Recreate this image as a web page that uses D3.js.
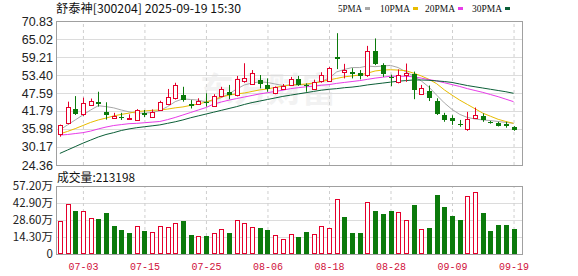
<!DOCTYPE html>
<html>
<head>
<meta charset="utf-8">
<script src="https://cdn.jsdelivr.net/npm/d3@7"></script>
<style>
  body { margin: 0; background: #fff; }
  svg { display: block; }
  text { font-family: "Noto Sans CJK SC", "Liberation Sans", sans-serif; }
</style>
</head>
<body>
<div id="chart"></div>
<script>
// trading days shown, 06-30 .. 09-19
const dates = ['06-30','07-01','07-02','07-03','07-04','07-07','07-08','07-09','07-10','07-11',
  '07-14','07-15','07-16','07-17','07-18','07-21','07-22','07-23','07-24','07-25',
  '07-28','07-29','07-30','07-31','08-01','08-04','08-05','08-06','08-07','08-08',
  '08-11','08-12','08-13','08-14','08-15','08-18','08-19','08-20','08-21','08-22',
  '08-25','08-26','08-27','08-28','08-29','09-01','09-02','09-03','09-04','09-05',
  '09-08','09-09','09-10','09-11','09-12','09-15','09-16','09-17','09-18','09-19']

const open = [34.5,37.8,42.3,40.8,43.7,44.8,41.6,39.6,40.0,39.3,
  38.9,41.2,40.0,42.1,44.0,45.9,46.9,43.9,44.2,44.6,
  43.4,46.7,48.0,46.9,51.4,50.5,51.8,50.2,47.5,49.0,
  50.2,52.1,50.2,49.0,51.6,51.5,59.3,54.4,54.5,54.1,
  53.3,61.1,56.7,52.9,51.2,53.4,53.6,47.2,48.2,45.1,
  40.5,39.4,37.6,36.1,39.4,40.2,38.3,38.0,37.5,36.6]
const high = [37.4,44.8,46.6,46.1,45.8,48.0,44.6,41.2,41.2,40.7,
  42.4,42.1,42.3,45.1,48.9,50.9,49.6,45.3,45.9,47.5,
  47.2,49.6,50.2,53.1,57.2,55.0,53.4,52.3,49.7,50.5,
  52.8,53.1,50.7,51.9,54.3,56.0,66.9,57.0,55.6,55.0,
  62.8,65.2,57.2,53.5,55.2,57.1,54.5,50.2,50.0,45.9,
  41.2,40.4,38.9,41.5,42.9,41.0,38.6,38.3,38.3,36.9]
const low = [33.5,37.5,40.5,40.2,43.4,43.2,39.0,39.3,38.9,39.0,
  38.8,39.8,39.7,41.8,43.7,45.5,44.8,42.6,43.9,43.2,
  43.2,46.2,45.6,46.5,50.9,50.2,49.1,48.0,47.2,48.6,
  49.9,49.9,48.0,48.6,50.9,51.2,55.3,52.3,52.3,52.0,
  52.8,56.6,52.8,49.8,50.7,51.2,45.6,47.0,45.0,40.5,
  38.3,37.3,36.7,35.4,39.2,38.3,37.7,36.8,36.4,35.4]
const close = [37.2,43.1,40.8,44.5,45.1,44.0,40.4,40.2,39.6,39.5,
  42.1,40.4,41.5,44.8,46.2,50.2,45.4,43.5,45.1,44.4,
  46.6,48.9,46.9,52.1,52.4,54.1,50.5,48.8,49.4,49.8,
  52.1,50.2,49.8,51.1,53.5,55.6,58.5,54.9,53.7,53.2,
  61.1,57.0,53.8,52.5,53.4,54.1,48.7,49.1,46.1,40.7,
  38.9,38.4,37.2,39.3,40.6,39.0,38.0,37.1,37.0,35.6]
// volume, in 万
const volume = [28,42,35.8,36.4,30.2,29.4,34.7,23.8,20.4,17.9,
  23.8,19.6,18.7,23.8,23,25.7,28,16.2,15.4,15.4,
  17.9,21,17.9,28.5,26.3,23,21.8,20.1,16.2,12.6,
  16.8,14,18.7,17,23.5,21.8,46.2,31.3,17.9,17.3,
  44,36.4,33.3,36.4,35.5,28.8,41.4,21,21.5,49.8,
  39.2,32.2,28.8,49,52.4,34.7,19.6,24.6,24.6,21.3198]

const ma5 = [35.7,37.3,38.9,40.5,42.1,43.5,43.2,42.8,42.1,41.5,
  41.1,41.1,41.3,41.9,43.2,44.8,45.7,45.5,45.3,44.7,
  45.2,46.1,47.3,48.9,50.2,50.8,51.2,51.0,50.5,50.0,
  50.2,50.2,50.3,50.7,51.3,52.4,54.4,55.2,55.8,55.8,
  56.3,56.1,56.3,56.5,55.8,54.4,53.1,51.5,49.5,46.9,
  44.4,42.3,40.7,39.7,39.2,38.9,38.7,38.4,38.1,37.8]
const ma10 = [34.4,35.2,36.1,37.1,38.1,38.9,39.5,40.2,40.7,41.1,
  41.6,41.8,42.0,42.1,42.4,42.8,43.1,43.6,44.0,44.7,
  45.5,46.3,46.9,47.3,47.6,48.1,48.6,48.9,49.4,49.8,
  50.2,50.3,50.5,50.8,51.3,51.8,52.3,52.8,53.1,53.4,
  54.0,54.7,55.0,55.1,55.0,54.8,54.0,53.1,52.0,50.6,
  48.6,46.9,45.3,43.9,42.5,41.1,40.1,39.1,38.4,37.8]
const ma20 = [34.0,34.2,34.5,34.8,35.3,36.0,36.6,37.1,37.4,37.7,
  37.8,38.0,38.2,38.4,39.0,39.7,40.5,41.3,42.1,42.9,
  44.0,44.7,45.3,45.8,46.3,46.8,47.3,47.7,48.1,48.5,
  49.0,49.3,49.6,49.8,50.1,50.3,50.7,51.0,51.3,51.6,
  52.0,52.4,52.7,53.0,53.0,53.0,52.8,52.4,51.9,51.5,
  50.9,50.3,49.7,49.0,48.4,47.8,47.1,46.4,45.6,44.8]
const ma30 = [28.1,29.2,30.3,31.4,32.4,33.4,34.2,34.8,35.5,36.0,
  36.4,36.7,37.0,37.3,37.8,38.3,38.9,39.6,40.2,40.8,
  41.4,42.0,42.6,43.2,43.9,44.5,45.0,45.5,46.0,46.5,
  46.9,47.3,47.7,48.1,48.5,48.8,49.0,49.3,49.5,49.8,
  50.2,50.5,50.8,51.1,51.4,51.6,51.8,51.8,51.7,51.5,
  51.3,51.0,50.5,50.0,49.6,49.2,48.8,48.4,48.0,47.5]

const tickDates = ['07-03','07-15','07-25','08-06','08-18','08-28','09-09','09-19']
const priceTicks = [24.36, 30.17, 35.98, 41.79, 47.59, 53.40, 59.21, 65.02, 70.83]
const volTicks = [0, 14.30, 28.60, 42.90, 57.20]
const maNames = ['5PMA', '10PMA', '20PMA', '30PMA']

const width = 578
const height = 276
const left = 56
const right = 522
const priceTop = 21
const priceBottom = 165
const volTop = 186
const volBottom = 254

const UP = '#e4002b'
const DOWN = '#0b7a0b'
const maColors = ['#a8a8a8', '#e8bc00', '#e83ce8', '#0b5e37']

const svg = d3.select('#chart')
  .append('svg')
  .attr('width', width)
  .attr('height', height)

const x = d3.scaleLinear().domain([-0.5, dates.length + 0.1]).range([left, right])
const y = d3.scaleLinear().domain([priceTicks[0], priceTicks[priceTicks.length - 1]]).range([priceBottom, priceTop])
const yv = d3.scaleLinear().domain([0, volTicks[volTicks.length - 1]]).range([volBottom, volTop])

const tickIdx = tickDates.map(d => dates.indexOf(d))

// faint watermark
svg.append('text')
  .attr('x', 268).attr('y', 102)
  .attr('text-anchor', 'middle')
  .style('font-size', '34px').style('font-weight', 'bold')
  .attr('fill', '#f2f2f2')
  .text('东方财富')

function grid(g, scale, ticks, top, bottom) {
  // horizontal solid lines
  g.append('g')
    .attr('transform', `translate(${left},0)`)
    .call(d3.axisLeft(scale).tickValues(ticks).tickSize(-(right - left)).tickFormat(''))
    .call(a => a.select('.domain').remove())
    .call(a => a.selectAll('line').attr('stroke', '#dcdcdc'))
  // vertical dashed lines
  g.append('g')
    .attr('transform', `translate(0,${bottom})`)
    .call(d3.axisBottom(x).tickValues(tickIdx).tickSize(-(bottom - top)).tickFormat(''))
    .call(a => a.select('.domain').remove())
    .call(a => a.selectAll('line').attr('stroke', '#cfcfcf').attr('stroke-dasharray', '3,3'))
  // frame
  g.append('rect')
    .attr('x', left + 0.5).attr('y', top + 0.5)
    .attr('width', right - left).attr('height', bottom - top)
    .attr('fill', 'none').attr('stroke', '#a0a0a0')
}

grid(svg.append('g'), y, priceTicks, priceTop, priceBottom)
grid(svg.append('g'), yv, volTicks, volTop, volBottom)

// price labels
svg.append('g')
  .attr('transform', `translate(${left},0)`)
  .call(d3.axisLeft(y).tickValues(priceTicks).tickSize(0).tickPadding(3).tickFormat(d3.format('.2f')))
  .call(a => a.select('.domain').remove())
  .call(a => a.selectAll('text').attr('fill', '#222').style('font-family', '"Liberation Sans", Arial, sans-serif').style('font-size', '12.5px'))

// volume labels
svg.append('g')
  .attr('transform', `translate(${left},0)`)
  .call(d3.axisLeft(yv).tickValues(volTicks).tickSize(0).tickPadding(3).tickFormat(d => d ? d3.format('.2f')(d) + '万' : '0'))
  .call(a => a.select('.domain').remove())
  .call(a => a.selectAll('text').attr('fill', '#222').style('font-size', '11.5px'))

// date labels
svg.append('g')
  .attr('transform', `translate(0,${volBottom})`)
  .call(d3.axisBottom(x).tickValues(tickIdx).tickSize(0).tickPadding(8).tickFormat(i => dates[i]))
  .call(a => a.select('.domain').remove())
  .call(a => a.selectAll('text').attr('fill', '#d0103a')
    .style('font-family', '"Liberation Mono", monospace').style('font-size', '11px')
    .attr('textLength', 30).attr('lengthAdjust', 'spacingAndGlyphs'))

// moving averages
const line = d3.line().x((d, i) => x(i)).y(d => y(d))
;[ma5, ma10, ma20, ma30].forEach((s, k) => {
  svg.append('path')
    .attr('d', line(s))
    .attr('fill', 'none')
    .attr('stroke', maColors[k])
    .attr('stroke-width', 1)
})

// candles
const candles = svg.append('g')
dates.forEach((d, i) => {
  const px = Math.round(x(i))
  const up = close[i] >= open[i]
  const c = up ? UP : DOWN
  const top = y(Math.max(open[i], close[i]))
  const bot = y(Math.min(open[i], close[i]))
  candles.append('line')
    .attr('x1', px + 0.5).attr('x2', px + 0.5)
    .attr('y1', y(high[i])).attr('y2', y(low[i]))
    .attr('stroke', c)
  if (up) {
    candles.append('rect')
      .attr('x', px - 1.5).attr('y', Math.round(top) + 0.5)
      .attr('width', 4).attr('height', Math.max(1, Math.round(bot) - Math.round(top)))
      .attr('fill', '#fff').attr('stroke', c)
  } else {
    candles.append('rect')
      .attr('x', px - 2).attr('y', Math.round(top))
      .attr('width', 5).attr('height', Math.max(1, Math.round(bot) - Math.round(top)))
      .attr('fill', c)
  }
})

// volume bars, colour by close vs previous close
const bars = svg.append('g')
volume.forEach((v, i) => {
  const px = Math.round(x(i))
  const up = i === 0 || close[i] >= close[i - 1]
  const t = Math.round(yv(v))
  if (up) {
    bars.append('rect')
      .attr('x', px - 1.5).attr('y', t + 0.5)
      .attr('width', 4).attr('height', volBottom - t - 1)
      .attr('fill', '#fff').attr('stroke', UP)
  } else {
    bars.append('rect')
      .attr('x', px - 2).attr('y', t)
      .attr('width', 5).attr('height', volBottom - t)
      .attr('fill', DOWN)
  }
})

// title
svg.append('text')
  .attr('x', 56).attr('y', 13)
  .style('font-size', '12px')
  .attr('fill', '#111')
  .attr('textLength', 185).attr('lengthAdjust', 'spacingAndGlyphs')
  .text('舒泰神[300204] 2025-09-19 15:30')

svg.append('text')
  .attr('x', 57).attr('y', 182)
  .style('font-size', '12px')
  .attr('fill', '#111')
  .attr('textLength', 78).attr('lengthAdjust', 'spacingAndGlyphs')
  .text('成交量:' + Math.round(volume[volume.length - 1] * 10000))

// legend
const legendX = [338, 380, 425, 472]
const legend = svg.append('g')
maNames.forEach((name, k) => {
  legend.append('text')
    .attr('x', legendX[k]).attr('y', 12)
    .style('font-family', '"Liberation Serif", serif').style('font-size', '11px')
    .attr('fill', '#111')
    .attr('textLength', name.length * 6).attr('lengthAdjust', 'spacingAndGlyphs')
    .text(name)
  legend.append('rect')
    .attr('x', legendX[k] + name.length * 6 + 3).attr('y', 7)
    .attr('width', 5).attr('height', 3)
    .attr('fill', maColors[k])
})
</script>
</body>
</html>
